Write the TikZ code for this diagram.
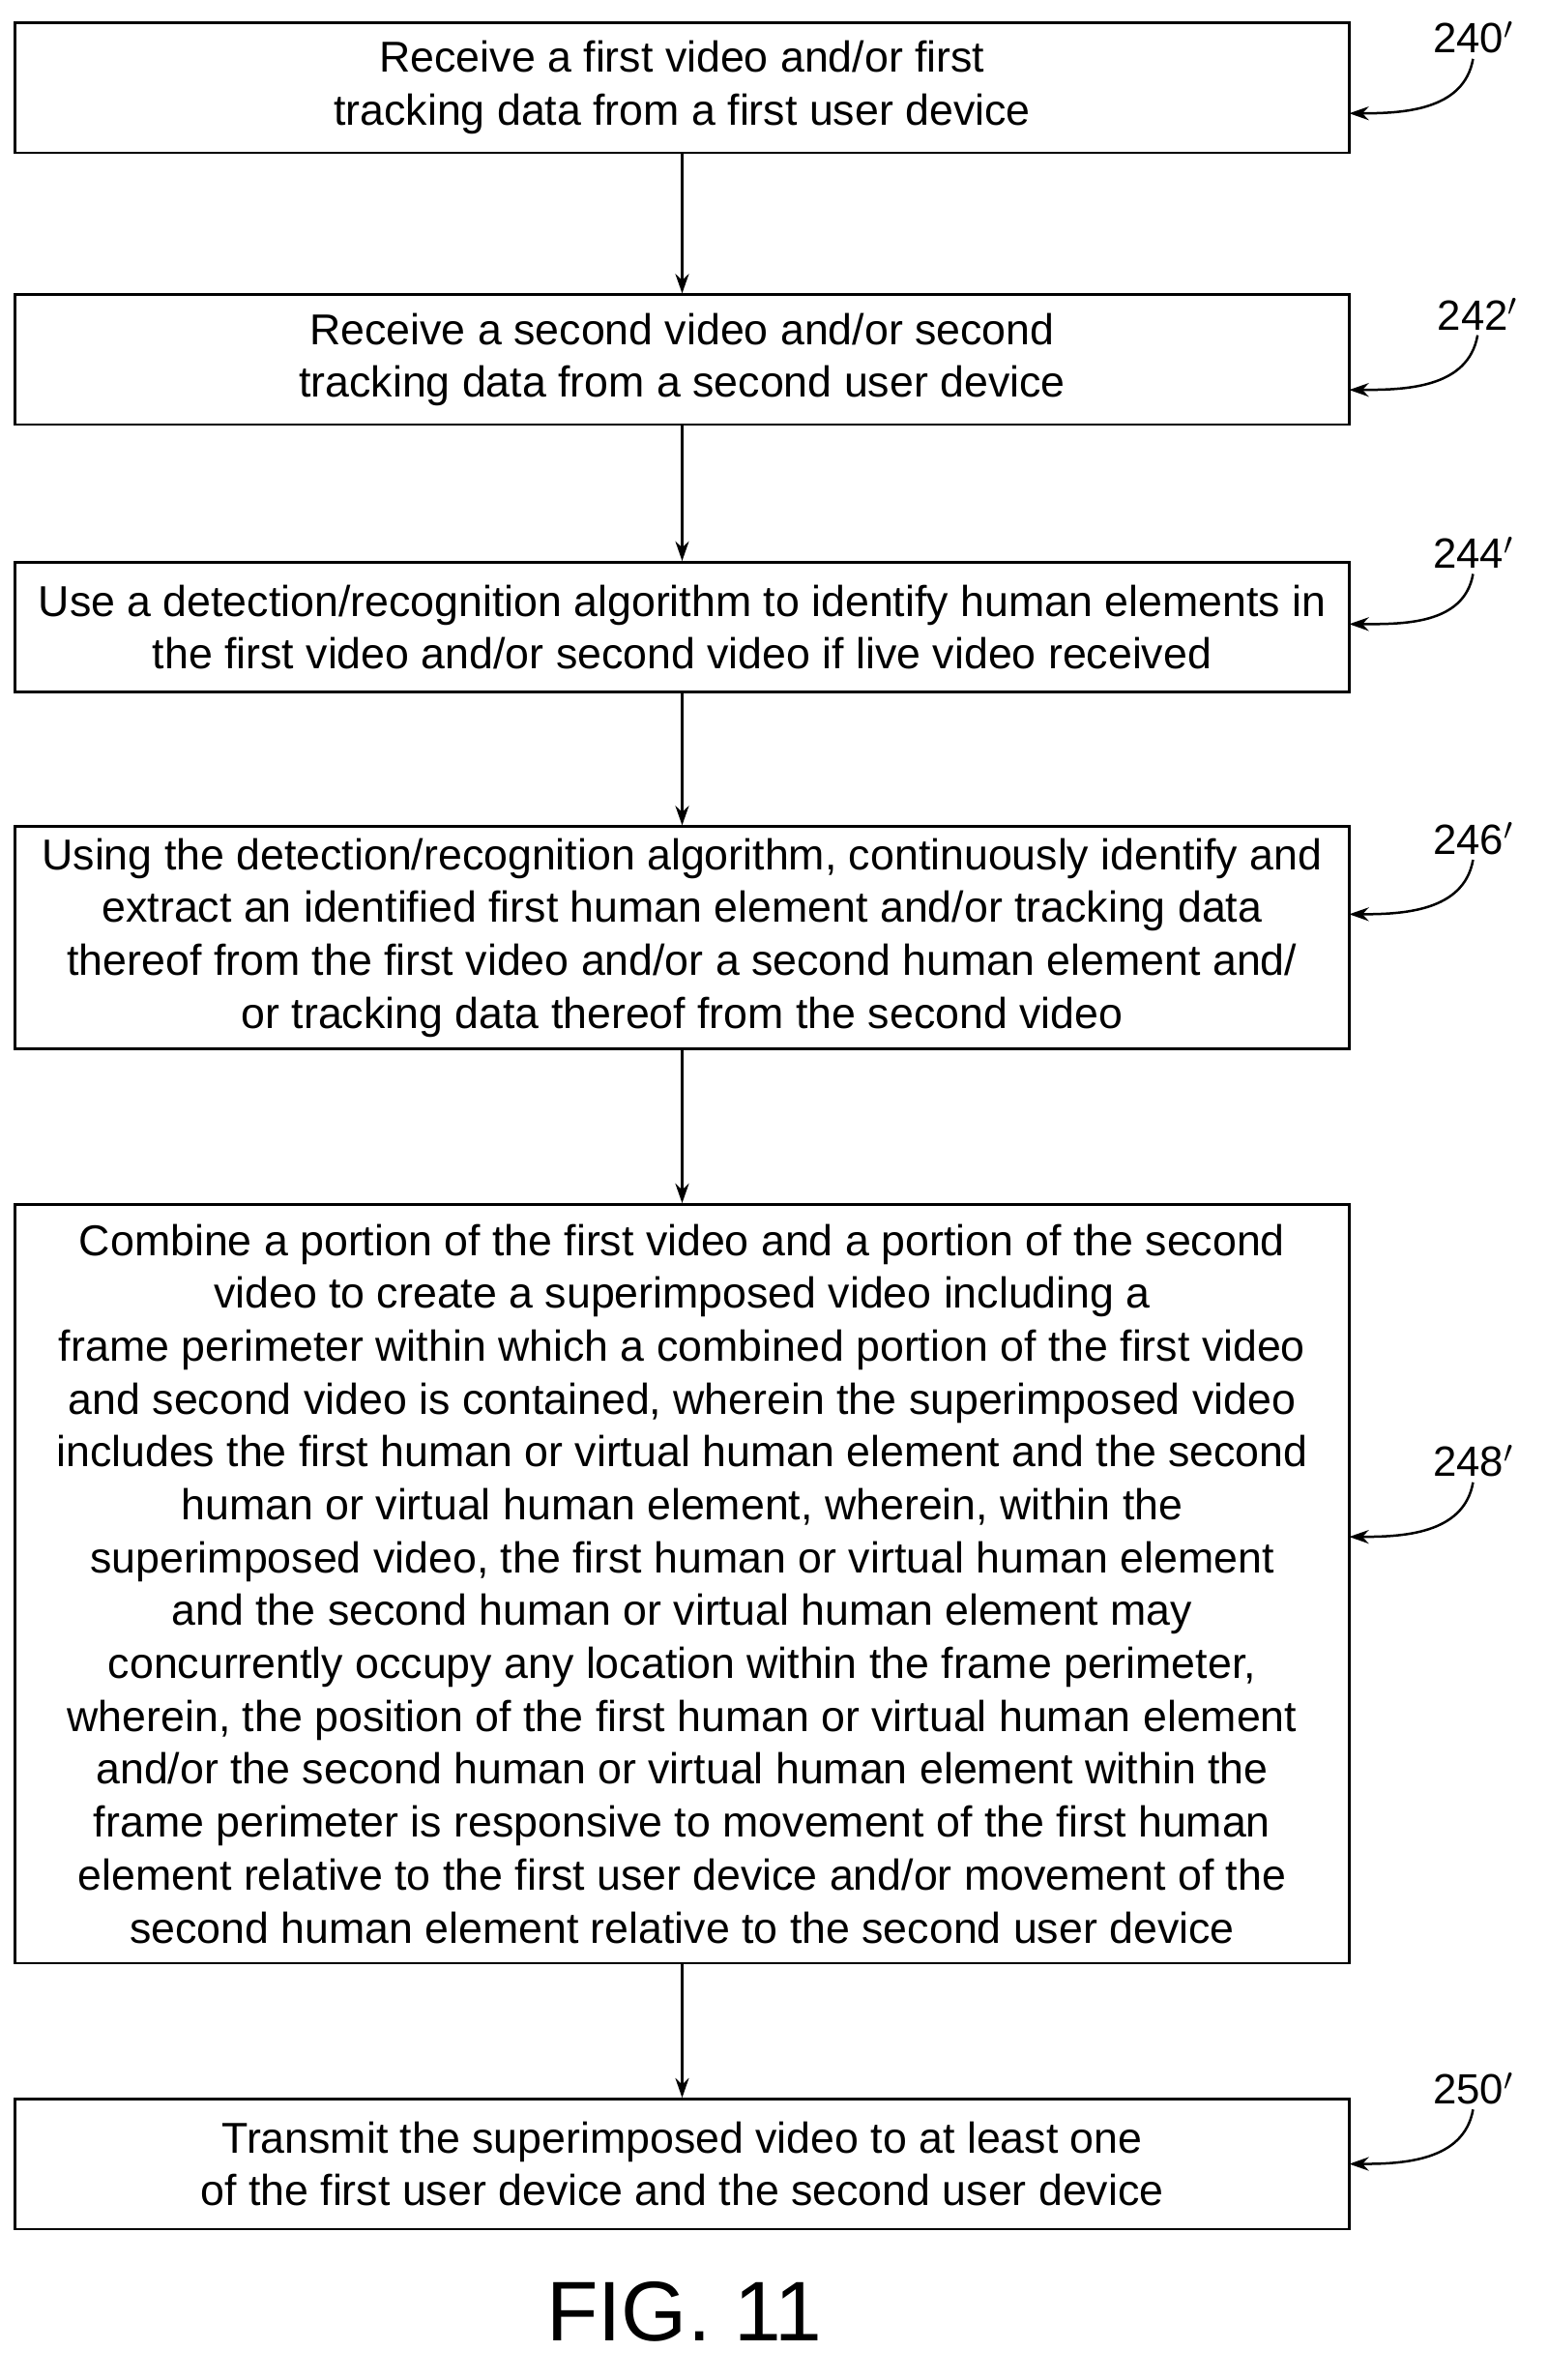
\documentclass[tikz,border=0pt]{standalone}
\usepackage{fontspec}
\setmainfont{Liberation Sans}
\usetikzlibrary{arrows.meta}
\tikzset{
  stepbox/.style={draw, line width=1.6pt, minimum width=883pt, align=center,
    inner sep=0pt, font=\fontsize{28.6}{35}\selectfont},
  reflabel/.style={font=\fontsize{28}{32}\selectfont},
  flow/.style={-{Stealth[length=13pt,width=9pt]}, line width=1.6pt},
  refarrow/.style={-{Stealth[length=13pt,width=9pt]}, line width=1.6pt}
}
\begin{document}
\begin{tikzpicture}[x=1pt,y=-1pt]
	\useasboundingbox (0,0) rectangle (1024,1575);

	\node [stepbox, minimum height=86pt] (b1) at (451.5, 58) {Receive a first video and/or first\\tracking data from a first user device};
	\node [stepbox, minimum height=86pt] (b2) at (451.5, 238) {Receive a second video and/or second\\tracking data from a second user device};
	\node [stepbox, minimum height=86pt] (b3) at (451.5, 415) {Use a detection/recognition algorithm to identify human elements in\\the first video and/or second video if live video received};
	\node [stepbox, minimum height=147pt] (b4) at (451.5, 620.5) {Using the detection/recognition algorithm, continuously identify and\\extract an identified first human element and/or tracking data\\thereof from the first video and/or a second human element and/\\or tracking data thereof from the second video};
	\node [stepbox, minimum height=502pt] (b5) at (451.5, 1048) {Combine a portion of the first video and a portion of the second\\video to create a superimposed video including a\\frame perimeter within which a combined portion of the first video\\and second video is contained, wherein the superimposed video\\includes the first human or virtual human element and the second\\human or virtual human element, wherein, within the\\superimposed video, the first human or virtual human element\\and the second human or virtual human element may\\concurrently occupy any location within the frame perimeter,\\wherein, the position of the first human or virtual human element\\and/or the second human or virtual human element within the\\frame perimeter is responsive to movement of the first human\\element relative to the first user device and/or movement of the\\second human element relative to the second user device};
	\node [stepbox, minimum height=86pt] (b6) at (451.5, 1432) {Transmit the superimposed video to at least one\\of the first user device and the second user device};

	\draw [flow] (b1) -- (b2);
	\draw [flow] (b2) -- (b3);
	\draw [flow] (b3) -- (b4);
	\draw [flow] (b4) -- (b5);
	\draw [flow] (b5) -- (b6);

	\node [reflabel] (l1) at (975, 25) {240$'$};
	\node [reflabel] (l2) at (978, 208) {242$'$};
	\node [reflabel] (l3) at (975, 366) {244$'$};
	\node [reflabel] (l4) at (975, 555) {246$'$};
	\node [reflabel] (l5) at (975, 967) {248$'$};
	\node [reflabel] (l6) at (975, 1382) {250$'$};

	\coordinate (e1) at (893, 75);
	\coordinate (e2) at (893, 258);
	\coordinate (e3) at (893, 413);
	\coordinate (e4) at (893, 605);
	\coordinate (e5) at (893, 1017);
	\coordinate (e6) at (893, 1432);

	\draw [refarrow] (l1.south) to [out=-100, in=0] (e1);
	\draw [refarrow] (l2.south) to [out=-100, in=0] (e2);
	\draw [refarrow] (l3.south) to [out=-100, in=0] (e3);
	\draw [refarrow] (l4.south) to [out=-100, in=0] (e4);
	\draw [refarrow] (l5.south) to [out=-100, in=0] (e5);
	\draw [refarrow] (l6.south) to [out=-100, in=0] (e6);

	\node [font=\fontsize{56}{60}\selectfont] (fig) at (453, 1530) {FIG. 11};
\end{tikzpicture}
\end{document}
